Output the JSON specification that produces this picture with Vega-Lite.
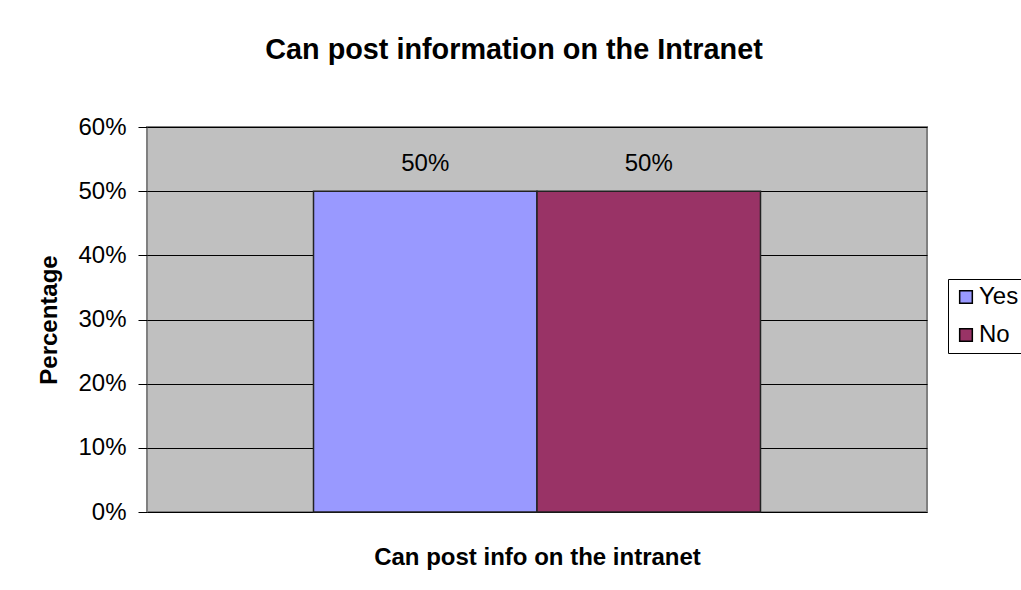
{
  "$schema": "https://vega.github.io/schema/vega-lite/v6.json",
  "autosize": "none",
  "width": 780,
  "height": 385,
  "padding": {"left": 147, "top": 127, "right": 94, "bottom": 78},
  "background": "white",
  "title": {
    "text": "Can post information on the Intranet",
    "font": "Liberation Sans",
    "fontSize": 28.8,
    "fontWeight": "bold",
    "color": "black",
    "anchor": "middle",
    "frame": "group",
    "dx": -23,
    "offset": 50
  },
  "config": {
    "font": "Liberation Sans",
    "view": {"fill": "#C0C0C0", "stroke": "#808080", "strokeWidth": 2}
  },
  "data": {
    "values": [
      {"answer": "Yes", "share": 0.5},
      {"answer": "No", "share": 0.5}
    ]
  },
  "encoding": {
    "x": {
      "field": "answer",
      "type": "nominal",
      "sort": ["Yes", "No"],
      "scale": {"paddingInner": 0, "paddingOuter": 0.745},
      "axis": {
        "title": "Can post info on the intranet",
        "titleFont": "Liberation Sans",
        "titleFontSize": 24,
        "titleFontWeight": "bold",
        "titleColor": "black",
        "titlePadding": 33,
        "labels": false,
        "ticks": false,
        "domain": false
      }
    },
    "y": {
      "field": "share",
      "type": "quantitative",
      "scale": {"domain": [0, 0.6]},
      "axis": {
        "title": "Percentage",
        "titleFont": "Liberation Sans",
        "titleFontSize": 24,
        "titleFontWeight": "bold",
        "titleColor": "black",
        "titlePadding": 16,
        "format": ".0%",
        "values": [0, 0.1, 0.2, 0.3, 0.4, 0.5, 0.6],
        "labelFont": "Liberation Sans",
        "labelFontSize": 24,
        "labelColor": "black",
        "labelPadding": 12,
        "tickColor": "black",
        "tickSize": 9,
        "domain": false,
        "grid": true,
        "gridColor": "black",
        "gridWidth": 1
      }
    }
  },
  "layer": [
    {
      "mark": {"type": "bar", "stroke": "#222222", "strokeWidth": 1.5},
      "encoding": {
        "color": {
          "field": "answer",
          "type": "nominal",
          "sort": ["Yes", "No"],
          "scale": {"domain": ["Yes", "No"], "range": ["#9999FF", "#993366"]},
          "legend": {
            "title": null,
            "orient": "none",
            "legendX": 801,
            "legendY": 152,
            "symbolType": "square",
            "symbolSize": 160,
            "symbolStrokeColor": "black",
            "symbolStrokeWidth": 1.5,
            "labelFont": "Liberation Sans",
            "labelFontSize": 24,
            "labelColor": "black",
            "labelOffset": 1,
            "rowPadding": 14,
            "padding": 6,
            "strokeColor": "black",
            "fillColor": "white"
          }
        }
      }
    },
    {
      "mark": {"type": "text", "dy": -27, "fontSize": 24, "font": "Liberation Sans", "color": "black"},
      "encoding": {
        "text": {"field": "share", "type": "quantitative", "format": ".0%"}
      }
    }
  ]
}
